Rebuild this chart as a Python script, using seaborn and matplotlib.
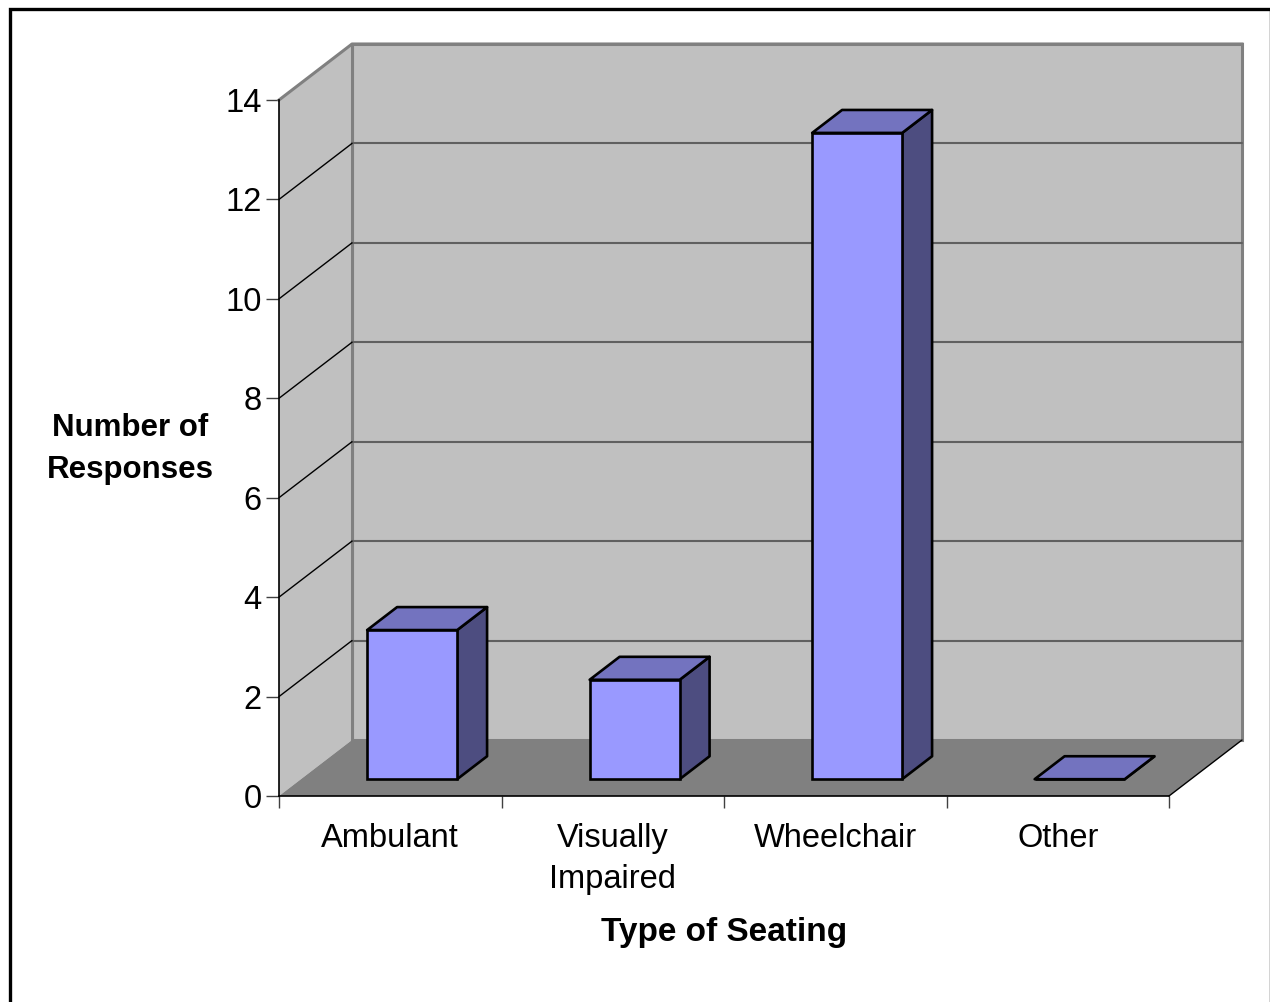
import matplotlib
matplotlib.use("Agg")
import matplotlib.pyplot as plt
import seaborn as sns
from matplotlib.patches import Polygon, Rectangle

categories = ["Ambulant", "Visually\nImpaired", "Wheelchair", "Other"]
responses = [3, 2, 13, 0]
y_ticks = [0, 2, 4, 6, 8, 10, 12, 14]

sns.set_theme(style="white")
plt.rcParams['font.family'] = ['Liberation Sans', 'DejaVu Sans']
plt.rcParams['text.color'] = 'black'
plt.rcParams['xtick.labelcolor'] = 'black'
plt.rcParams['ytick.labelcolor'] = 'black'

front_c = '#9999ff'
top_c = '#7373bf'
side_c = '#4d4d80'
wall_c = '#c0c0c0'
floor_c = '#808080'

fig = plt.figure(figsize=(12.7, 10.02), dpi=100)
fig.set_facecolor('white')
ax = fig.add_axes([279 / 1270, 206 / 1002, 890 / 1270, 696 / 1002])
ax.set_facecolor('white')

# depth of the 3d box in data units
DX = 73 / 222.5
DY = 56 / (696 / 14)
W = 90 / 222.5
f1, f2 = 0.30, 0.71
dd = f2 - f1

sns.barplot(x=categories, y=responses, width=W, color=front_c,
            edgecolor='black', linewidth=1.9, saturation=1, ax=ax, zorder=3)
bars = list(ax.patches)

x0, x1 = -0.5, len(categories) - 0.5
top = max(y_ticks)

# walls and floor
ax.add_patch(Rectangle((x0 + DX, DY), x1 - x0, top, facecolor=wall_c,
                       edgecolor='#808080', lw=2.2, clip_on=False, zorder=0.5))
ax.add_patch(Polygon([(x0, 0), (x0, top), (x0 + DX, top + DY), (x0 + DX, DY)],
                     closed=True, facecolor=wall_c, edgecolor='none',
                     clip_on=False, zorder=0.6))
ax.plot([x0, x0 + DX, x1 + DX], [top, top + DY, top + DY], color='#808080',
        lw=2.2, clip_on=False, zorder=0.7, solid_capstyle='projecting')
ax.plot([x0 + DX, x0 + DX], [DY, top + DY], color='#808080', lw=2.2,
        clip_on=False, zorder=0.7)
ax.add_patch(Polygon([(x0, 0), (x1, 0), (x1 + DX, DY), (x0 + DX, DY)],
                     closed=True, facecolor=floor_c, edgecolor='none',
                     clip_on=False, zorder=0.8))
ax.plot([x1, x1 + DX], [0, DY], color='black', lw=1, clip_on=False, zorder=0.9)

for v in y_ticks[1:-1]:
    ax.plot([x0 + DX, x1 + DX], [v + DY, v + DY], color='#606060', lw=1.5,
            clip_on=False, zorder=0.9)
    ax.plot([x0, x0 + DX], [v, v + DY], color='black', lw=1, clip_on=False,
            zorder=0.9)

# make the bars 3d
for rect in bars:
    xl = rect.get_x() + f1 * DX
    rect.set_x(xl)
    rect.set_y(f1 * DY)
    xr = xl + rect.get_width()
    yb = f1 * DY
    yt = yb + rect.get_height()
    ax.add_patch(Polygon([(xr, yb), (xr, yt), (xr + dd * DX, yt + dd * DY),
                          (xr + dd * DX, yb + dd * DY)], closed=True,
                         facecolor=side_c, edgecolor='black', lw=1.9,
                         joinstyle='round', clip_on=False, zorder=2.9))
    ax.add_patch(Polygon([(xl, yt), (xr, yt), (xr + dd * DX, yt + dd * DY),
                          (xl + dd * DX, yt + dd * DY)], closed=True,
                         facecolor=top_c, edgecolor='black', lw=1.9,
                         joinstyle='round', clip_on=False, zorder=2.9))

ax.set_xlim(x0, x1)
ax.set_ylim(0, top)

for s in ['top', 'right']:
    ax.spines[s].set_visible(False)
for s in ['left', 'bottom']:
    ax.spines[s].set_color('black')
    ax.spines[s].set_linewidth(1.2)
    ax.spines[s].set_zorder(4)

ax.set_yticks(y_ticks)
ax.set_yticklabels([str(v) for v in y_ticks], fontsize=23.5, color='black')
ax.tick_params(axis='y', direction='out', length=9.5, width=1, color='#404040',
               pad=3, left=True)
ax.set_xticks(range(len(categories)))
ax.set_xticklabels(categories, fontsize=23.5, linespacing=1.4, color='black')
ax.set_xticks([x0 + i for i in range(len(categories) + 1)], minor=True)
ax.tick_params(axis='x', which='major', length=0, pad=19.5)
ax.tick_params(axis='x', which='minor', direction='out', length=8.5, width=1,
               color='#404040', bottom=True)
ax.set_xlabel('')
ax.set_ylabel('')

fig.text(724 / 1270, 1 - 933 / 1002, 'Type of Seating', fontsize=24,
         fontweight='bold', ha='center', va='center', color='black')
fig.text(130 / 1270, 1 - 449 / 1002, 'Number of\nResponses', fontsize=22.5,
         fontweight='bold', ha='center', va='center', multialignment='center',
         linespacing=1.5, color='black')

# outer frame
fig.patches.append(Rectangle((9.5 / 1270, -0.05), (1271 - 9.5) / 1270,
                             1.05 - 9.5 / 1002, transform=fig.transFigure,
                             fill=False, edgecolor='black', lw=2.4))

fig.savefig('out.png', dpi=100)
